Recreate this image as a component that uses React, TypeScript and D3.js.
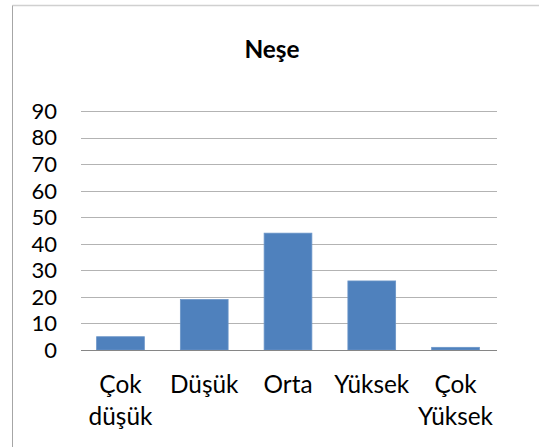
import React from "react";
import * as d3 from "d3";

const title = "Neşe";
const categories = ["Çok düşük", "Düşük", "Orta", "Yüksek", "Çok Yüksek"];
const values = [5, 19, 44, 26, 1];
const yTicks = [0, 10, 20, 30, 40, 50, 60, 70, 80, 90];

const W = 539;
const H = 447;
const FONT = "Lato, 'Open Sans', sans-serif";

export default function App() {
  const x = d3.scaleBand<string>().domain(categories).range([78.6, 497.4]).paddingInner(0.43).paddingOuter(0.215);
  const y = d3.scaleLinear().domain([0, 90]).range([350, 111]);

  return (
    <svg
      width={W}
      height={H}
      style={{ position: "absolute", left: 0, top: 0, background: "#fff" }}
      fontFamily={FONT}
    >
      <rect x={0} y={0} width={W} height={H} fill="#fff" />
      <line x1={12.5} y1={5.5} x2={W} y2={5.5} stroke="#d0d0d0" strokeWidth={1.5} />
      <line x1={12.5} y1={5.5} x2={12.5} y2={H} stroke="#a6a6a6" strokeWidth={1} />

      <text x={272} y={58} textAnchor="middle" fontSize={24.4} fontWeight="bold" fill="#000">
        {title}
      </text>

      {yTicks.map((t) => (
        <g key={t}>
          {t !== 0 && (
            <line x1={81} x2={497} y1={Math.round(y(t)) + 0.5} y2={Math.round(y(t)) + 0.5} stroke="#b3b3b3" strokeWidth={1} />
          )}
          <text x={57} y={y(t)} dy="0.36em" textAnchor="end" fontSize={22} fill="#000">
            {t}
          </text>
        </g>
      ))}

      {categories.map((c, i) => (
        <rect
          key={c}
          x={x(c)}
          y={y(values[i])}
          width={x.bandwidth()}
          height={y(0) - y(values[i])}
          fill="#4F81BD"
          stroke="#6b95c8"
          strokeWidth={0.8}
        />
      ))}

      <line x1={81} x2={497} y1={350.5} y2={350.5} stroke="#868686" strokeWidth={1} />

      {categories.map((c) => {
        const cx = (x(c) as number) + x.bandwidth() / 2;
        const words = c.split(" ");
        return (
          <text key={c} x={cx} y={393} textAnchor="middle" fontSize={24.4} fill="#000">
            {words.map((w, j) => (
              <tspan key={j} x={cx} dy={j === 0 ? 0 : 32}>
                {w}
              </tspan>
            ))}
          </text>
        );
      })}
    </svg>
  );
}
